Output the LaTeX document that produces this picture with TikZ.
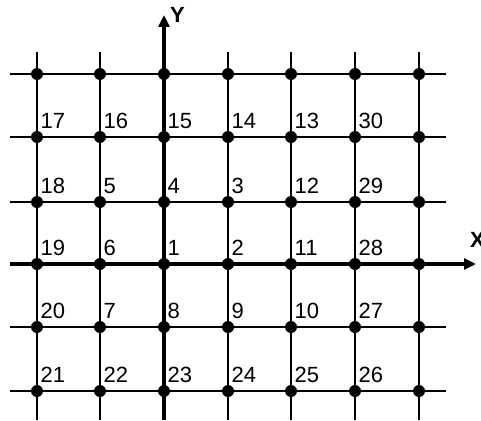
\documentclass[tikz,border=0pt]{standalone}
\usepackage{fontspec}
\setmainfont{Liberation Sans}
\usetikzlibrary{arrows.meta}
\begin{document}
\begin{tikzpicture}[x=1pt,y=-1pt,
  gridline/.style={line width=1.6pt,black},
  axisline/.style={line width=4.5pt,black,-{Triangle[length=12pt,width=11pt]}},
  dotmark/.style={circle,fill=black,inner sep=0pt,minimum size=12pt},
  numlabel/.style={anchor=base west,inner sep=0pt,font=\fontsize{22}{24}\selectfont},
  axislabel/.style={anchor=north west,inner sep=0pt,font=\bfseries\fontsize{22}{24}\selectfont}]
\useasboundingbox (0,0) rectangle (481,420);
% grid coordinates
\foreach \x [count=\i] in {37,100,164,228,291,355,419}{
  \coordinate (vt\i) at (\x,52);
  \coordinate (vb\i) at (\x,420);
  \foreach \y [count=\j] in {74,137,202,264,327,391}{
    \coordinate (p\i-\j) at (\x,\y);
  }
}
\foreach \y [count=\j] in {74,137,202,264,327,391}{
  \coordinate (hl\j) at (10,\y);
  \coordinate (hr\j) at (446,\y);
}
% thin grid lines
\foreach \i in {1,2,4,5,6,7}{ \draw[gridline] (vt\i) -- (vb\i); }
\foreach \j in {1,2,3,5,6}{ \draw[gridline] (hl\j) -- (hr\j); }
% axes
\coordinate (ytip) at (164,15);
\coordinate (xtip) at (476,264);
\draw[axisline] (vb3) -- (ytip);
\draw[axisline] (hl4) -- (xtip);
\node[axislabel] (ylab) at (170,7) {Y};
\node[axislabel] (xlab) at (470,232) {X};
% dots
\foreach \i in {1,...,7}{
  \foreach \j in {1,...,6}{
    \node[dotmark] (d\i-\j) at (p\i-\j) {};
  }
}
% labels
\foreach \row [count=\j from 2] in {{17,16,15,14,13,30},{18,5,4,3,12,29},{19,6,1,2,11,28},{20,7,8,9,10,27},{21,22,23,24,25,26}}{
  \foreach \t [count=\i] in \row {
    \node[numlabel] (l\i-\j) at ([shift={(3.5,-9)}]p\i-\j) {\t};
  }
}
\end{tikzpicture}
\end{document}
